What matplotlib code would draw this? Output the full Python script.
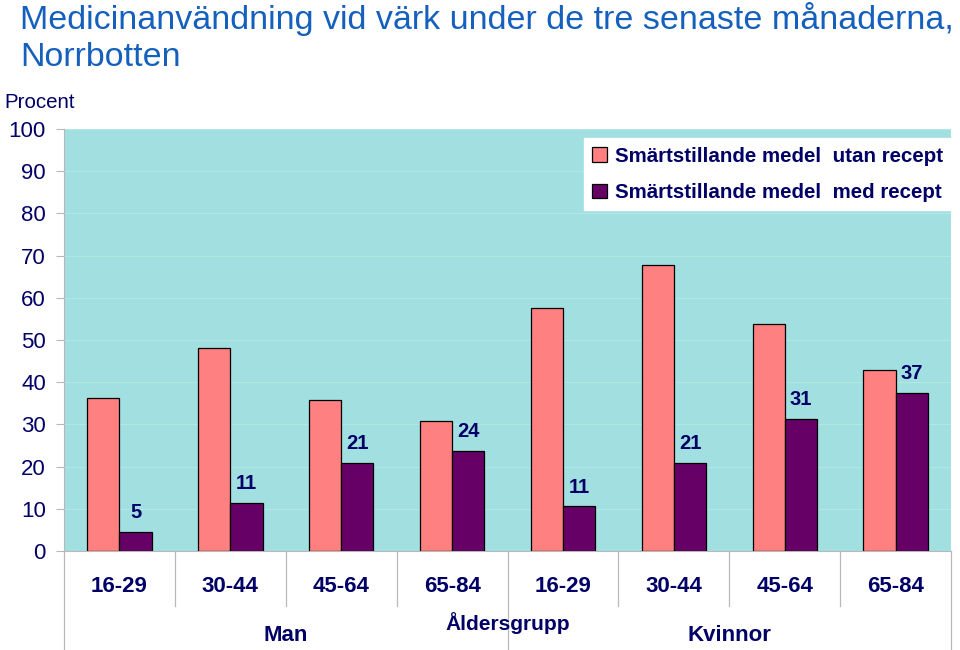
import numpy as np
import matplotlib
matplotlib.use("Agg")
import matplotlib.pyplot as plt
from matplotlib.lines import Line2D

plt.rcParams['font.family'] = ['Liberation Sans', 'DejaVu Sans']

# ---- data ----
age_groups = ["16-29", "30-44", "45-64", "65-84", "16-29", "30-44", "45-64", "65-84"]
groups = ["Man", "Kvinnor"]
utan_recept = [36.3, 48.0, 35.9, 30.8, 57.7, 67.8, 53.7, 42.8]
med_recept = [4.6, 11.4, 20.9, 23.7, 10.6, 20.9, 31.3, 37.4]
yticks = [0, 10, 20, 30, 40, 50, 60, 70, 80, 90, 100]

NAVY = "#000066"
SALMON = "#FF8080"
PURPLE = "#660066"
BG = "#A2DFE0"
GREY = "#B8B8B8"

fig = plt.figure(figsize=(9.6, 6.5), dpi=100)
ax = fig.add_axes([0.0667, 0.1523, 0.924, 0.6492])
ax.set_facecolor(BG)

x = np.arange(len(age_groups))
w = 0.29
ax.bar(x - w / 2, utan_recept, w, color=SALMON, edgecolor="black", linewidth=0.9,
       label="Smärtstillande medel  utan recept", zorder=3)
bars = ax.bar(x + w / 2, med_recept, w, color=PURPLE, edgecolor="black", linewidth=0.9,
              label="Smärtstillande medel  med recept", zorder=3)

# value labels only on the "med recept" bars
for b, v in zip(bars, med_recept):
    ax.text(b.get_x() + b.get_width() / 2, v + 2.3, f"{v:.0f}", ha="center", va="bottom",
            fontsize=14.5, fontweight="bold", color=NAVY, zorder=4)

ax.set_xlim(-0.5, len(age_groups) - 0.5)
ax.set_ylim(0, 100)
ax.set_yticks(yticks)
ax.set_yticklabels([str(t) for t in yticks], fontsize=16, color=NAVY)
ax.tick_params(axis="y", length=6, color=GREY, pad=7)
ax.grid(axis="y", color="#B4E6E6", linewidth=0.8, zorder=0)
ax.set_axisbelow(True)

ax.set_xticks([])
for s in ["top", "right"]:
    ax.spines[s].set_visible(False)
ax.spines["left"].set_color(GREY)
ax.spines["bottom"].set_color(GREY)

# category labels and separators below the axis
trans = ax.get_xaxis_transform()
for i, lab in enumerate(age_groups):
    ax.text(i, -0.085, lab, transform=trans, ha="center", va="center",
            fontsize=16, fontweight="bold", color=NAVY)
for b in range(len(age_groups) + 1):
    xb = b - 0.5
    y_end = -0.245 if b in (0, 4, 8) else -0.13
    ax.add_line(Line2D([xb, xb], [0, y_end], transform=trans, color=GREY,
                       linewidth=0.9, clip_on=False))

ax.text(1.5, -0.2, groups[0], transform=trans, ha="center", va="center",
        fontsize=16, fontweight="bold", color=NAVY)
ax.text(5.5, -0.2, groups[1], transform=trans, ha="center", va="center",
        fontsize=16, fontweight="bold", color=NAVY)
ax.text(3.5, -0.17, "Åldersgrupp", transform=trans, ha="center", va="center",
        fontsize=15, fontweight="bold", color=NAVY)

leg = ax.legend(loc="upper right", bbox_to_anchor=(1.0, 0.978), borderaxespad=0,
                frameon=True, fancybox=False, framealpha=1, edgecolor="white",
                facecolor="white", prop={"size": 14.8, "weight": "bold"},
                handlelength=0.7, handleheight=0.7, handletextpad=0.4,
                labelspacing=0.85, borderpad=0.4)
for t in leg.get_texts():
    t.set_color(NAVY)

fig.text(0.005, 0.842, "Procent", fontsize=14.8, color=NAVY, ha="left", va="center")
fig.text(0.021, 0.997, "Medicinanvändning vid värk under de tre senaste månaderna,\nNorrbotten",
         fontsize=24.5, color="#1560BD", ha="left", va="top", linespacing=1.25)

fig.savefig("out.png", dpi=100)
